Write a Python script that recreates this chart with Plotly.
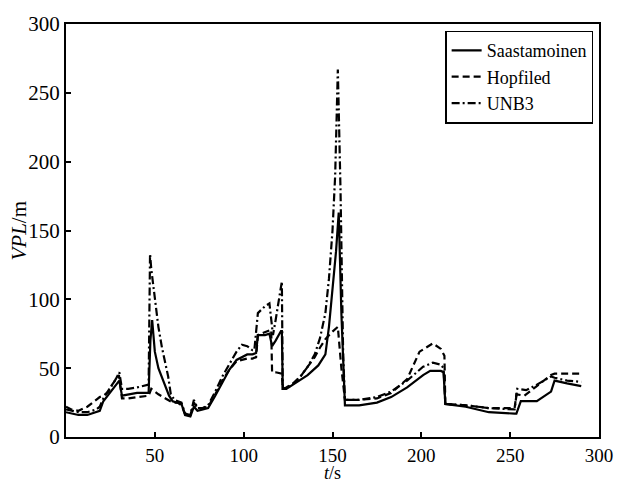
import plotly.graph_objects as go

# ---- data ----
t_saas = [0, 3, 7, 12, 17, 19, 21, 24, 28, 30, 31.5, 35, 40, 46.5, 47.5, 48.5, 50, 52, 54, 56, 58, 60,
          63, 65, 67, 70, 72, 74, 77, 80, 84, 88, 92, 96, 99, 102, 105, 107, 108, 112, 114.5, 116, 118,
          121, 121.5, 122, 124, 130, 136, 142, 146, 148, 150, 152, 153.5, 155, 157, 165, 175, 183, 192,
          201, 205, 211, 212.5, 213.5, 225, 238, 252.5, 253.5, 256, 265, 273, 275, 282, 290]
v_saas = [18, 17, 16, 16, 18, 19, 26, 31, 37, 41, 30, 31, 32, 32, 70, 85, 62, 50, 43, 37, 30, 26,
          25, 24, 16, 15, 22, 19, 20, 21, 30, 40, 49, 56, 58, 60, 60, 61, 74, 74, 75, 66, 70,
          77, 77, 35, 35, 40, 45, 52, 60, 80, 105, 135, 163, 90, 23, 23, 25, 29, 36,
          45, 48, 48, 47, 24, 22, 18, 17, 17, 26, 26, 33, 41, 39, 37, 36]

t_hopf = [0, 3, 7, 12, 15, 19, 21, 24, 26, 29.8, 31.5, 35, 40, 46.5, 48, 52, 56, 60, 63, 65, 67, 70,
          72, 74, 77, 80, 84, 88, 92, 96, 99, 102, 105, 107, 108, 112, 115.5, 116, 118, 121.5, 122,
          124, 128, 132, 136, 140, 143, 146, 149.5, 153, 155, 157, 165, 175, 183, 192, 199, 206.5,
          211, 213, 213.5, 225, 238, 252.5, 253.5, 258, 265, 273, 275, 282, 290]
v_hopf = [22, 20, 19, 22, 25, 29, 30, 33, 38, 45, 28, 28, 29, 30, 35, 31, 28, 25, 25, 23, 17, 16,
          25, 21, 21, 22, 31, 41, 49, 55, 56, 57, 57, 58, 74, 76, 78, 47, 47, 46, 35,
          36, 39, 44, 51, 58, 65, 71, 76, 80, 50, 27, 27, 28, 32, 42, 62, 68,
          64, 59, 24, 23, 21, 21, 31, 30, 37, 45, 46, 46, 46]

t_unb3 = [0, 3, 7, 12, 17, 19, 21, 24, 28, 30, 31.5, 35, 40, 46.5, 47.3, 48, 50, 52, 54, 57.5, 59, 61,
          63, 65, 67, 70, 72, 74, 77, 80, 84, 88, 92, 96, 99, 102, 105, 106, 108, 112, 114.5, 116.5,
          118, 120, 121.5, 122, 124, 128, 132, 136, 140, 143, 146, 148, 150, 151.5, 153, 154.5, 156,
          157, 165, 175, 183, 192, 201, 206.5, 211, 212.5, 213.5, 225, 238, 252.5, 254, 259, 265,
          273, 275, 282, 290]
v_unb3 = [20, 19, 18, 18, 20, 22, 28, 34, 42, 47, 35, 35, 36, 38, 133, 122, 100, 80, 65, 44, 31, 27,
          26, 25, 17, 16, 27, 21, 21, 23, 33, 44, 53, 62, 67, 66, 63, 63, 90, 95, 97, 74,
          85, 100, 113, 35, 35, 39, 44, 51, 60, 72, 90, 115, 150, 190, 267, 180, 60,
          27, 27, 29, 33, 41, 51, 54, 52.5, 50, 24, 23, 21, 20, 35, 34, 38,
          44, 43, 41, 40]

series_names = ["Saastamoinen", "Hopfiled", "UNB3"]
x_ticks = [50, 100, 150, 200, 250, 300]
y_ticks = [0, 50, 100, 150, 200, 250, 300]

FONT = "Liberation Serif"

fig = go.Figure()
fig.add_trace(go.Scatter(x=t_saas, y=v_saas, mode="lines", name=series_names[0],
                         line=dict(color="black", width=2.2, dash="solid")))
fig.add_trace(go.Scatter(x=t_hopf, y=v_hopf, mode="lines", name=series_names[1],
                         line=dict(color="black", width=2.2, dash="7px,4px")))
fig.add_trace(go.Scatter(x=t_unb3, y=v_unb3, mode="lines", name=series_names[2],
                         line=dict(color="black", width=2.2, dash="8px,3px,2px,3px")))

axis_common = dict(showline=True, linecolor="black", linewidth=2, mirror=True,
                   ticks="inside", ticklen=5, tickwidth=1.5, tickcolor="black",
                   showgrid=False, zeroline=False, ticklabeloverflow="allow")

fig.update_layout(
    width=625, height=484,
    margin=dict(l=66, r=16, t=17, b=47),
    paper_bgcolor="white", plot_bgcolor="white",
    xaxis=dict(range=[0, 300], tickvals=x_ticks,
               tickfont=dict(family=FONT, size=19, color="black"), **axis_common),
    yaxis=dict(range=[0, 300], tickvals=y_ticks,
               tickfont=dict(family=FONT, size=21, color="black"), **axis_common),
    showlegend=True,
    legend=dict(x=0.989, xanchor="right", y=0.984, yanchor="top",
                bgcolor="white", bordercolor="black", borderwidth=1.5,
                font=dict(family=FONT, size=18, color="black"),
                tracegroupgap=0),
    annotations=[
        dict(text="<i>VPL</i>/m", xref="paper", yref="paper", x=-0.09, y=0.5,
             xanchor="center", yanchor="middle", textangle=-90, showarrow=False,
             font=dict(family=FONT, size=21, color="black")),
        dict(text="<i>t</i>/s", xref="paper", yref="paper", x=0.5, y=-0.088,
             xanchor="center", yanchor="middle", showarrow=False,
             font=dict(family=FONT, size=18, color="black")),
    ],
)

fig.write_html("out.html")
